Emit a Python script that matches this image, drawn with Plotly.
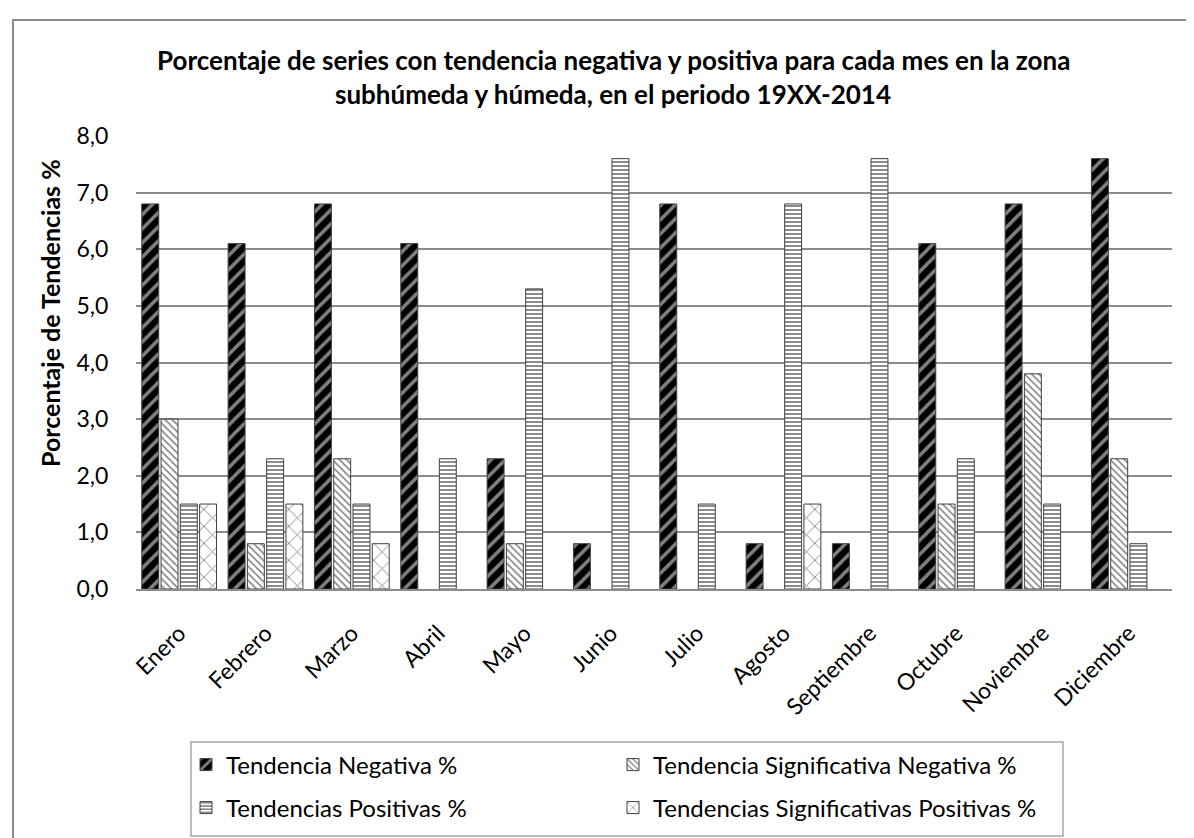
import plotly.graph_objects as go

meses = ["Enero", "Febrero", "Marzo", "Abril", "Mayo", "Junio", "Julio",
         "Agosto", "Septiembre", "Octubre", "Noviembre", "Diciembre"]
tend_neg = [6.8, 6.1, 6.8, 6.1, 2.3, 0.8, 6.8, 0.8, 0.8, 6.1, 6.8, 7.6]
tend_sig_neg = [3.0, 0.8, 2.3, 0, 0.8, 0, 0, 0, 0, 1.5, 3.8, 2.3]
tend_pos = [1.5, 2.3, 1.5, 2.3, 5.3, 7.6, 1.5, 6.8, 7.6, 2.3, 1.5, 0.8]
tend_sig_pos = [1.5, 1.5, 0.8, 0, 0, 0, 0, 1.5, 0, 0, 0, 0]
y_ticks = [0, 1, 2, 3, 4, 5, 6, 7, 8]

FONT = "Lato"
W, H = 1194, 838
L, R, T, B = 128, 30, 128, 257
pw, ph = W - L - R, H - T - B


def px_x(x):
    return (x - L) / pw


def px_y(y):
    return (H - B - y) / ph


def nz(vals):
    return [v if v else None for v in vals]


line = dict(color="#404040", width=1)
fig = go.Figure()
fig.add_bar(x=meses, y=nz(tend_neg), name="Tendencia Negativa %", legend="legend",
            marker=dict(color="black", line=line,
                        pattern=dict(shape="/", fgcolor="white", bgcolor="black",
                                     size=10, solidity=0.35, fillmode="overlay")))
fig.add_bar(x=meses, y=nz(tend_sig_neg), name="Tendencia Significativa Negativa %",
            legend="legend",
            marker=dict(color="white", line=line,
                        pattern=dict(shape="\\", fgcolor="black", bgcolor="white",
                                     size=5, solidity=0.3, fillmode="overlay")))
fig.add_bar(x=meses, y=nz(tend_pos), name="Tendencias Positivas %", legend="legend2",
            marker=dict(color="white", line=line,
                        pattern=dict(shape="-", fgcolor="black", bgcolor="white",
                                     size=4, solidity=0.45, fillmode="overlay")))
fig.add_bar(x=meses, y=nz(tend_sig_pos), name="Tendencias Significativas Positivas %",
            legend="legend2",
            marker=dict(color="white", line=line,
                        pattern=dict(shape="x", fgcolor="black", bgcolor="white",
                                     size=12, solidity=0.14, fillmode="overlay")))

leg_common = dict(orientation="h", xanchor="left", yanchor="middle",
                  entrywidth=382, entrywidthmode="pixels", itemwidth=30,
                  borderwidth=0, bgcolor="rgba(0,0,0,0)",
                  font=dict(family=FONT, size=24, color="black"))

fig.update_layout(
    width=W, height=H,
    margin=dict(l=L, r=R, t=T, b=B),
    paper_bgcolor="white", plot_bgcolor="white",
    separators=",.",
    barmode="group", bargap=0.107, bargroupgap=0.12,
    font=dict(family=FONT, size=23, color="black"),
    showlegend=True,
    legend=dict(x=px_x(178), y=px_y(757), **leg_common),
    legend2=dict(x=px_x(178), y=px_y(800), **leg_common),
    annotations=[
        dict(text="<b>Porcentaje de series con tendencia negativa y positiva para cada mes en la zona</b>",
             xref="paper", yref="paper", x=px_x(605), y=px_y(52), showarrow=False,
             xanchor="center", yanchor="middle", font=dict(family=FONT, size=26)),
        dict(text="<b>subhúmeda y húmeda, en el periodo 19XX-2014</b>",
             xref="paper", yref="paper", x=px_x(605), y=px_y(86), showarrow=False,
             xanchor="center", yanchor="middle", font=dict(family=FONT, size=26)),
        dict(text="<b>Porcentaje de Tendencias %</b>", textangle=-90,
             xref="paper", yref="paper", x=px_x(42), y=px_y(305), showarrow=False,
             xanchor="center", yanchor="middle", font=dict(family=FONT, size=25)),
    ],
    shapes=[
        dict(type="rect", xref="paper", yref="paper",
             x0=px_x(5), x1=px_x(1215), y0=px_y(12), y1=px_y(860),
             line=dict(color="#8c8c8c", width=2), layer="below"),
        dict(type="rect", xref="paper", yref="paper",
             x0=px_x(183), x1=px_x(1055), y0=px_y(734), y1=px_y(828),
             line=dict(color="#a6a6a6", width=1.5), layer="below"),
    ],
)
fig.update_xaxes(tickangle=-45, showline=True, linecolor="#8c8c8c", linewidth=1.5,
                 ticks="outside", ticklen=20, tickcolor="rgba(0,0,0,0)",
                 tickfont=dict(size=23), showgrid=False)
fig.update_yaxes(range=[0, 8], tickvals=y_ticks, tickformat=".1f",
                 showgrid=True, gridcolor="#8c8c8c", gridwidth=1.5,
                 zeroline=False, showline=False,
                 ticks="outside", ticklen=22, tickcolor="rgba(0,0,0,0)",
                 tickfont=dict(size=23))

fig.write_html("out.html")
